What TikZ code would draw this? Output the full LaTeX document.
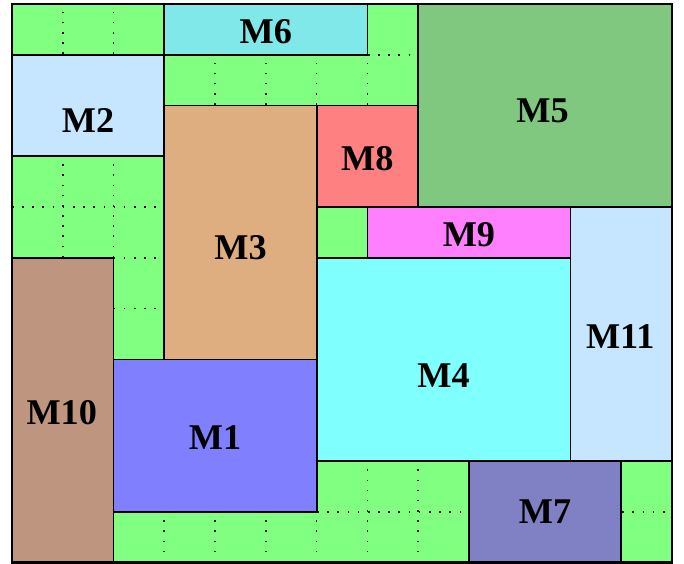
\documentclass[tikz,border=0pt]{standalone}
\usepackage{fontspec}
\setmainfont{Liberation Serif}
\definecolor{freegreen}{RGB}{128,255,128}
\definecolor{cM1}{RGB}{128,128,255}
\definecolor{cM2}{RGB}{198,230,255}
\definecolor{cM3}{RGB}{222,174,128}
\definecolor{cM4}{RGB}{128,255,255}
\definecolor{cM5}{RGB}{128,200,128}
\definecolor{cM6}{RGB}{128,232,232}
\definecolor{cM7}{RGB}{128,128,196}
\definecolor{cM8}{RGB}{255,128,128}
\definecolor{cM9}{RGB}{255,128,255}
\definecolor{cM10}{RGB}{190,150,128}
\definecolor{cM11}{RGB}{198,230,255}
\tikzset{
  gridline/.style={line width=0.9pt, dash pattern=on 0.9pt off 4.8pt, black},
  module/.style={draw=black, line width=1pt, rectangle, inner sep=0pt, outer sep=0pt,
    anchor=north west},
  modlabel/.style={font=\fontsize{20.3}{23}\selectfont\bfseries},
}
% place a module: #1 name, #2 colour, #3 col, #4 row, #5 width, #6 height,
% #7 horizontal and #8 vertical shift of its label
\newcommand{\placemodule}[8]{%
  \node[module, fill=#2, minimum width=#5cm, minimum height=#6cm] (#1) at (#3,-#4) {};
  \node[modlabel] (#1-label) at ([shift={(#7,-#8)}]#1.center) {#1};
}
\begin{document}
\begin{tikzpicture}
\useasboundingbox (-0.236,0.079) rectangle (13.236,-11.029);
% free area and its unit grid
\fill[freegreen] (0,0) rectangle (13,-11);
\draw[gridline] (0,0) grid (13,-11);
% placed modules
\placemodule{M6}{cM6}{3}{0}{4}{1}{0}{0.04}
\placemodule{M2}{cM2}{0}{1}{3}{2}{0}{0.29}
\placemodule{M5}{cM5}{8}{0}{5}{4}{-0.05}{0.1}
\placemodule{M3}{cM3}{3}{2}{3}{5}{0}{0.29}
\placemodule{M8}{cM8}{6}{2}{2}{2}{0}{0.04}
\placemodule{M9}{cM9}{7}{4}{4}{1}{0}{0.05}
\placemodule{M4}{cM4}{6}{5}{5}{4}{0}{0.31}
\placemodule{M11}{cM11}{11}{4}{2}{5}{-0.02}{0.04}
\placemodule{M10}{cM10}{0}{5}{2}{6}{-0.02}{0.04}
\placemodule{M1}{cM1}{2}{7}{4}{3}{0}{0.04}
\placemodule{M7}{cM7}{9}{9}{3}{2}{0}{0}
% outer boundary
\draw[line width=1.2pt] (0,0) rectangle (13,-11);
\end{tikzpicture}
\end{document}
